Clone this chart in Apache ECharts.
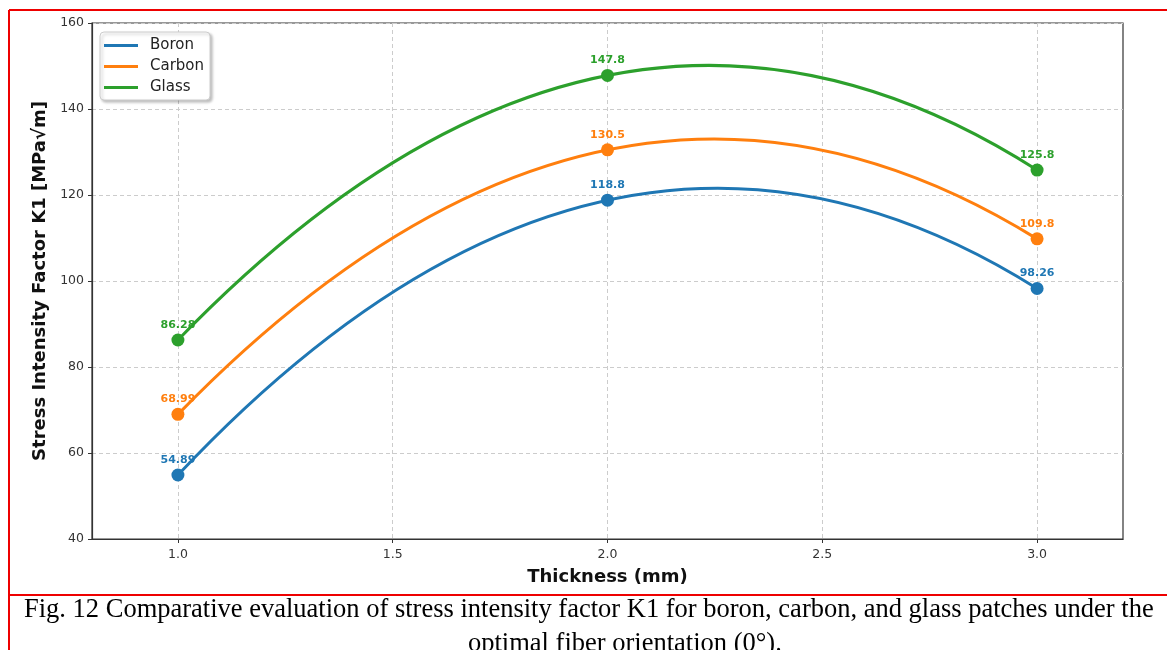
<!DOCTYPE html>
<html><head><meta charset="utf-8">
<script src="https://cdn.jsdelivr.net/npm/echarts@6/dist/echarts.min.js"></script>
<style>html,body{margin:0;padding:0;background:#fff;}#c{width:1167px;height:650px;}</style>
</head><body><div id="c"></div>
<script>
const thickness = [1.0, 2.0, 3.0];
const boron = [54.89, 118.8, 98.26];
const carbon = [68.99, 130.5, 109.8];
const glass = [86.28, 147.8, 125.8];
const seriesNames = ['Boron', 'Carbon', 'Glass'];
const xTicks = [1.0, 1.5, 2.0, 2.5, 3.0];
const captionLine1 = 'Fig. 12 Comparative evaluation of stress intensity factor K1 for boron, carbon, and glass patches under the';
const captionLine2 = 'optimal fiber orientation (0°).';

const colors = ['#1f77b4', '#ff7f0e', '#2ca02c'];
const chart = echarts.init(document.getElementById('c'));
const font = 'DejaVu Sans';

function pts(vals) { return thickness.map((x, i) => [x, vals[i]]); }

// markers + labels (line hidden; the smooth curve is drawn by the custom series below)
function marks(name, vals, color) {
  return {
    name: name, type: 'line',
    data: pts(vals),
    symbol: 'circle', symbolSize: 13,
    lineStyle: {width: 0, opacity: 0},
    itemStyle: {color: color},
    label: {show: true, position: 'top', distance: 3, color: color, fontFamily: font, fontWeight: 'bold', fontSize: 11,
      formatter: p => String(vals[p.dataIndex])},
    z: 4
  };
}
// smooth quadratic curve through the three data points (one Bezier segment, drawn in data coordinates)
function curve(name, vals, color) {
  return {
    name: name + ' curve', type: 'custom', coordinateSystem: 'cartesian2d',
    data: pts(vals), encode: {x: 0, y: 1}, silent: true, z: 3,
    renderItem: function (params, api) {
      if (params.dataIndex !== 0) return null;
      const p0 = api.coord([thickness[0], vals[0]]);
      const p2 = api.coord([thickness[2], vals[2]]);
      const c = api.coord([thickness[1], 2 * vals[1] - (vals[0] + vals[2]) / 2]);
      return {
        type: 'path',
        shape: {pathData: 'M' + p0[0] + ' ' + p0[1] + ' Q' + c[0] + ' ' + c[1] + ' ' + p2[0] + ' ' + p2[1]},
        style: {fill: 'none', stroke: color, lineWidth: 3}
      };
    }
  };
}
const gridStyle = {show: true, lineStyle: {type: [4, 3], color: '#cccccc', width: 1}};
chart.setOption({
  animation: false,
  textStyle: {fontFamily: font},
  grid: {left: 92, top: 23, right: 44, bottom: 111, show: true, borderColor: '#333', borderWidth: 1.2, backgroundColor: 'transparent'},
  legend: {
    left: 100, top: 32, orient: 'vertical', itemGap: 6, itemWidth: 34, itemHeight: 3,
    padding: [6, 6, 5, 4],
    backgroundColor: '#fff', borderColor: '#cccccc', borderWidth: 1, borderRadius: 4,
    shadowColor: 'rgba(0,0,0,0.25)', shadowBlur: 3, shadowOffsetX: 2, shadowOffsetY: 2,
    icon: 'rect',
    textStyle: {fontFamily: font, fontSize: 15, color: '#222', padding: [0, 0, 0, 7]},
    data: seriesNames.map((n, i) => ({name: n, itemStyle: {color: colors[i]}}))
  },
  xAxis: {
    type: 'value', min: 0.8, max: 3.2,
    axisLabel: {fontSize: 12.5, color: '#333', margin: 9, formatter: v => v.toFixed(1), customValues: xTicks},
    axisTick: {show: true, length: 4, lineStyle: {color: '#333'}, customValues: xTicks},
    axisLine: {lineStyle: {color: '#333', width: 1.2}},
    splitLine: gridStyle,
    name: 'Thickness (mm)', nameLocation: 'middle', nameGap: 29,
    nameTextStyle: {fontSize: 18, fontWeight: 'bold', color: '#111', fontFamily: font}
  },
  yAxis: {
    type: 'value', min: 40, max: 160, interval: 20,
    axisLabel: {fontSize: 12.5, color: '#333', margin: 8},
    axisTick: {show: true, length: 4, lineStyle: {color: '#333'}},
    axisLine: {show: true, lineStyle: {color: '#333', width: 1.2}},
    splitLine: gridStyle,
    name: 'Stress Intensity Factor K1 [MPa√m]', nameLocation: 'middle', nameGap: 37,
    nameTextStyle: {fontSize: 18, fontWeight: 'bold', color: '#111', fontFamily: font}
  },
  series: [
    curve('Boron', boron, colors[0]), curve('Carbon', carbon, colors[1]), curve('Glass', glass, colors[2]),
    marks('Boron', boron, colors[0]), marks('Carbon', carbon, colors[1]), marks('Glass', glass, colors[2])
  ],
  graphic: [
    {type: 'line', shape: {x1: 9, y1: 10, x2: 1167, y2: 10}, style: {stroke: '#ee0000', lineWidth: 2}},
    {type: 'line', shape: {x1: 9, y1: 10, x2: 9, y2: 650}, style: {stroke: '#ee0000', lineWidth: 2}},
    {type: 'line', shape: {x1: 9, y1: 595, x2: 1167, y2: 595}, style: {stroke: '#ee0000', lineWidth: 2}},
    {type: 'text', left: 24, top: 597, style: {text: captionLine1, font: '26.5px "Liberation Serif"', fill: '#000'}},
    {type: 'text', left: 468, top: 631, style: {text: captionLine2, font: '26.5px "Liberation Serif"', fill: '#000'}}
  ]
});
</script></body></html>
